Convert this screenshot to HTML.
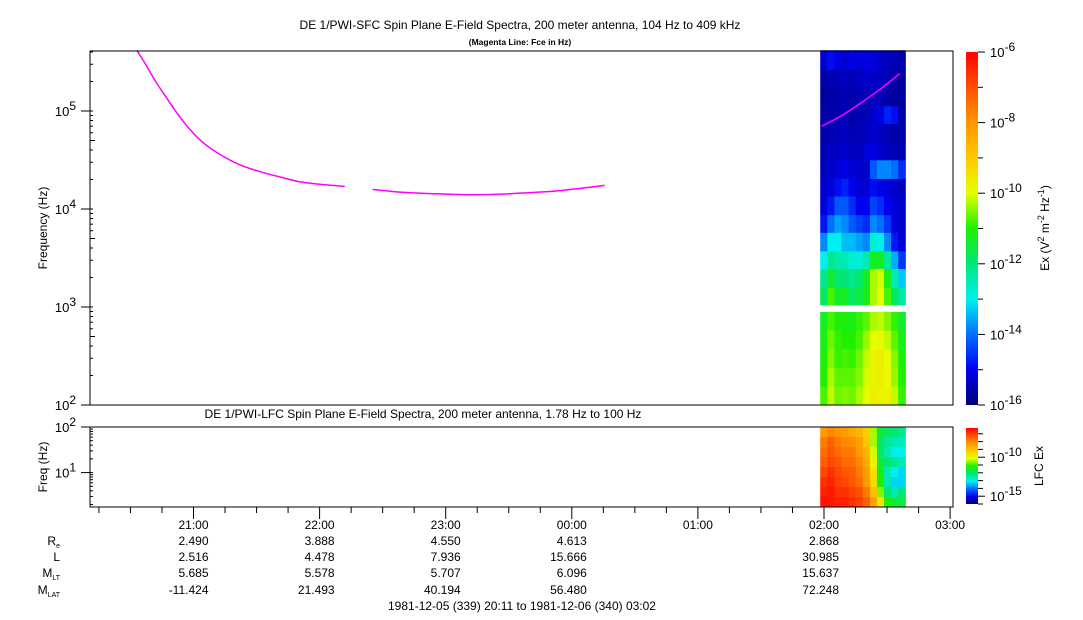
<!DOCTYPE html>
<html><head><meta charset="utf-8">
<style>
html,body{margin:0;padding:0;background:#fff;}
svg{display:block;font-family:"Liberation Sans",sans-serif;}
</style></head>
<body>
<svg id="chart" width="1083" height="620" viewBox="0 0 1083 620" xmlns="http://www.w3.org/2000/svg">
<text x="520" y="29" font-size="12" text-anchor="middle">DE 1/PWI-SFC  Spin Plane E-Field Spectra, 200 meter antenna, 104 Hz to 409 kHz</text>
<text x="520" y="45" font-size="8.5" font-weight="bold" text-anchor="middle">(Magenta Line: Fce in Hz)</text>
<text x="423" y="418" font-size="12" text-anchor="middle">DE 1/PWI-LFC  Spin Plane E-Field Spectra, 200 meter antenna, 1.78 Hz to 100 Hz</text>
<g id="spec"></g>
<g id="lfc"></g>
<g id="fce"></g>
<rect x="90" y="51" width="863" height="354" fill="none" stroke="#000" stroke-width="1"/>
<rect x="90" y="427" width="863" height="80" fill="none" stroke="#000" stroke-width="1"/>
<g id="axes"></g>
<text transform="translate(47,228) rotate(-90)" font-size="12" text-anchor="middle">Frequency (Hz)</text>
<text transform="translate(47,467) rotate(-90)" font-size="12" text-anchor="middle">Freq (Hz)</text>
<defs>
<linearGradient id="cmap" x1="0" y1="1" x2="0" y2="0"></linearGradient>
</defs>
<rect x="966" y="52" width="12" height="353" fill="url(#cmap)"/>
<rect x="966" y="428" width="12" height="76" fill="url(#cmap)"/>
<text transform="translate(1049,228) rotate(-90)" font-size="12" text-anchor="middle">Ex (V<tspan dy="-5" font-size="9">2</tspan><tspan dy="5"> m</tspan><tspan dy="-5" font-size="9">-2</tspan><tspan dy="5"> Hz</tspan><tspan dy="-5" font-size="9">-1</tspan><tspan dy="5">)</tspan></text>
<text transform="translate(1043,466) rotate(-90)" font-size="12" text-anchor="middle">LFC Ex</text>
<g id="ephem"></g>
<text x="522" y="610" font-size="12" text-anchor="middle">1981-12-05 (339) 20:11 to 1981-12-06 (340) 03:02</text>
</svg>
<script>
// ---- data ----
const sfcColStart = 25.97, sfcColEnd = 26.645; // hours
const sfcLowEdges = [2.0, 2.19, 2.38, 2.57, 2.76, 2.95];
const sfcLowValues = [
 [-10.8,-10.2,-10.6,-10.5,-10.6,-10.3,-10,-9.7,-9.8,-9.8,-10.2,-10.9],
 [-11,-10.3,-10.7,-10.7,-10.7,-10.5,-10.1,-9.8,-9.7,-9.9,-10.4,-11],
 [-11.1,-10.5,-10.9,-10.8,-10.9,-10.6,-10.2,-9.8,-9.7,-10,-10.5,-11.1],
 [-11.2,-10.6,-10.9,-11,-11,-10.8,-10.4,-10,-9.9,-10.2,-10.7,-11.2],
 [-11.3,-10.8,-11.1,-11.1,-11.2,-10.9,-10.7,-10.3,-10.2,-10.5,-10.9,-11.4]
];
const sfcHighEdges = [3.02,3.2,3.39,3.57,3.76,3.94,4.13,4.31,4.5,4.68,4.87,5.05,5.24,5.42,5.62];
const sfcHighValues = [
 [-11.8,-10.8,-11.3,-11.3,-11.8,-11.6,-11.2,-10.3,-10,-10.8,-11.8,-12.4],
 [-12.2,-11.4,-11.9,-12,-12.2,-11.9,-11.3,-10.3,-10.1,-11.2,-12.5,-13.3],
 [-13,-12.2,-12.4,-12.5,-12.8,-12.8,-12.5,-11.3,-11.3,-12.3,-13.5,-14.5],
 [-13.8,-13,-13,-13.4,-13.4,-13.6,-13.8,-12.8,-13,-13.8,-14.8,-15.2],
 [-14.8,-14,-13.6,-13.8,-14.2,-14.4,-14.6,-13.8,-14,-14.5,-15.2,-15.3],
 [-15.2,-14.8,-14.2,-14.2,-14.6,-15,-15,-14.4,-14.6,-15,-15.2,-15.3],
 [-15.3,-15.2,-14.9,-14.7,-15,-15.2,-15.2,-14.9,-15.1,-15.2,-15.3,-15.4],
 [-15.4,-15.3,-15.2,-15.1,-15.2,-15.3,-15.3,-14.2,-13.8,-13.8,-14,-14.6],
 [-15.5,-15.4,-15.3,-15.3,-15.4,-15.4,-15.2,-15.1,-15.3,-15.4,-15.5,-15.5],
 [-15.6,-15.5,-15.5,-15.4,-15.5,-15.5,-15.4,-15.3,-15.4,-15.5,-15.6,-15.6],
 [-15.6,-15.6,-15.5,-15.5,-15.6,-15.5,-15.5,-15.3,-15.1,-14.7,-14.9,-15.6],
 [-15.7,-15.6,-15.6,-15.5,-15.6,-15.5,-15.5,-15.4,-15.5,-15.6,-15.7,-15.7],
 [-15.6,-15.5,-15.5,-15.4,-15.5,-15.4,-15.3,-15.3,-15.4,-15.5,-15.6,-15.7],
 [-15.3,-14.9,-15.1,-15.3,-15.1,-15.2,-15.1,-15.2,-15.3,-15.4,-15.5,-15.6]
];
const lfcEdges = [0.25,0.47,0.69,0.91,1.13,1.35,1.57,1.79,2.0];
const lfcValues = [
 [-6.2,-6.3,-6.4,-6.4,-6.6,-6.8,-7.2,-8.2,-9.5,-11,-11.5,-11.5],
 [-6.4,-6.3,-6.6,-6.6,-6.8,-7,-7.6,-8.8,-10.5,-12,-12.5,-12],
 [-6.6,-6.4,-6.8,-6.9,-7.1,-7.4,-8.1,-9.3,-11,-12.5,-13.2,-13.2],
 [-6.9,-6.6,-6.9,-7.1,-7.2,-7.6,-8.2,-9.4,-11.2,-12.5,-13,-13.2],
 [-7.2,-6.9,-7.1,-7.4,-7.4,-7.8,-8.4,-9.8,-11.5,-12,-12.2,-12.5],
 [-7.4,-7.1,-7.4,-7.6,-7.6,-8.1,-8.6,-10.1,-11.8,-12.5,-13,-13],
 [-7.6,-7.2,-7.6,-7.8,-7.9,-8.2,-8.9,-10.3,-11.8,-12.3,-12.5,-12.6],
 [-8.1,-7.8,-8,-8.1,-8.4,-8.6,-9.1,-10.3,-11.5,-11.8,-12,-12.2]
];
const fceSeg1T = [20.55,20.62,20.70,20.78,20.87,20.97,21.08,21.21,21.36,21.53,21.70,21.84,22.02,22.20];
const fceSeg1F = [417000,300000,200000,140000,95000,65000,47000,36000,28500,24000,21000,19000,17800,17000];
const fceSeg2T = [22.42,22.60,22.80,23.00,23.19,23.40,23.67,23.85,23.99,24.26];
const fceSeg2F = [15800,15000,14500,14200,14000,14100,14700,15200,15800,17400];
const fceSeg3T = [25.98,26.13,26.28,26.44,26.60];
const fceSeg3F = [70000,88000,118000,165000,240000];
const hourTicks = [21,22,23,24,25,26,27];
const hourLabels = ["21:00","22:00","23:00","00:00","01:00","02:00","03:00"];
const ephemHours = [21,22,23,24,26];
const ephemRe = ["2.490","3.888","4.550","4.613","2.868"];
const ephemL = ["2.516","4.478","7.936","15.666","30.985"];
const ephemMLT = ["5.685","5.578","5.707","6.096","15.637"];
const ephemMLAT = ["-11.424","21.493","40.194","56.480","72.248"];

// ---- scales ----
const NS='http://www.w3.org/2000/svg';
const xT = h => 193.5 + (h-21)*126.1;
const yS = lf => 405 - (lf-2)*98;
const yL = lf => 427 + (2-lf)*45.6;
const cbS = lp => 405 - (lp+16)*35.3;
const cbL = lp => 504 - (lp+16)*7.8;
const stops=[[-16,[0,0,120]],[-15,[0,0,240]],[-14,[0,110,255]],[-13,[0,240,240]],[-12,[0,230,120]],[-11,[30,240,0]],[-10,[230,255,0]],[-9,[255,200,0]],[-8,[255,150,0]],[-7,[255,80,0]],[-6,[255,0,0]]];
function color(v){
  if(v<=stops[0][0]) return 'rgb('+stops[0][1]+')';
  for(let i=1;i<stops.length;i++){ if(v<=stops[i][0]){const a=stops[i-1],b=stops[i],t=(v-a[0])/(b[0]-a[0]);
    return 'rgb('+a[1].map((c,k)=>Math.round(c+(b[1][k]-c)*t)).join(',')+')';}}
  return 'rgb(255,0,0)';
}
function el(tag,attrs,parent){const e=document.createElementNS(NS,tag);for(const k in attrs)e.setAttribute(k,attrs[k]);parent.appendChild(e);return e;}
const grad=document.getElementById('cmap');
for(let v=-16;v<=-6;v+=0.25){el('stop',{offset:((v+16)/10),'stop-color':color(v)},grad);}

function heat(g,edges,vals,ys,name){
  const nc=vals[0].length, w=(xT(sfcColEnd)-xT(sfcColStart))/nc;
  vals.forEach((row,r)=>row.forEach((v,c)=>{
    const y0=ys(edges[r+1]), y1=ys(edges[r]);
    const rc=el('rect',{x:xT(sfcColStart)+c*w,y:y0,width:w+0.5,height:y1-y0+0.3,fill:color(v)},g);
    
    
  }));
}
const spec=document.getElementById('spec');
heat(spec,sfcLowEdges,sfcLowValues,yS,'sfc-cell');
heat(spec,sfcHighEdges,sfcHighValues,yS,'sfc-cell');
heat(document.getElementById('lfc'),lfcEdges,lfcValues,yL,'lfc-cell');

const fce=document.getElementById('fce');
[[fceSeg1T,fceSeg1F],[fceSeg2T,fceSeg2F],[fceSeg3T,fceSeg3F]].forEach(([t,f])=>{
  const pts=t.map((h,i)=>[xT(h),yS(Math.log10(f[i]))]);
  let d='M'+pts[0][0].toFixed(1)+','+pts[0][1].toFixed(1);
  for(let i=0;i<pts.length-1;i++){
    const p0=pts[Math.max(0,i-1)],p1=pts[i],p2=pts[i+1],p3=pts[Math.min(pts.length-1,i+2)];
    const c1=[p1[0]+(p2[0]-p0[0])/6,p1[1]+(p2[1]-p0[1])/6],c2=[p2[0]-(p3[0]-p1[0])/6,p2[1]-(p3[1]-p1[1])/6];
    d+=' C'+c1.map(v=>v.toFixed(1)).join(',')+' '+c2.map(v=>v.toFixed(1)).join(',')+' '+p2.map(v=>v.toFixed(1)).join(',');
  }
  const p=el('path',{d:d,fill:'none',stroke:'#ff00ff','stroke-width':1.5},fce);
  
  
});

const ax=document.getElementById('axes');
function sup(x,y,base,exp,size,anchor){
  const t=el('text',{x:x,y:y,'font-size':size,'text-anchor':anchor||'end'},ax);
  
  
  t.innerHTML=base+'<tspan dy="-6" font-size="'+(size-1)+'">'+exp+'</tspan>';
}
function line(x1,y1,x2,y2,g){el('line',{x1:x1,y1:y1,x2:x2,y2:y2,stroke:'#000','stroke-width':1},g||ax);}
for(let d=2;d<=5;d++){const y=yS(d);line(81,y,93,y);sup(76,y+5,'10',d,13);
  for(let m=2;m<10;m++){const lf=d+Math.log10(m);if(lf>5.62)break;const yy=yS(lf);line(90,yy,m==5?95:93,yy);}}
[1,2].forEach(d=>{const y=yL(d);line(81,y,93,y);sup(76,y+5,'10',d,13);});
for(let d=0;d<2;d++)for(let m=2;m<10;m++){const lf=d+Math.log10(m);if(lf<0.25)continue;line(90,yL(lf),93,yL(lf));}
for(let p=-16;p<=-6;p++){const y=cbS(p);line(978,y,p%2==0?985:983,y);if(p%2==0)sup(990,y+5,'10',p,13,'start');}
for(let p=-16;p<=-7;p++){const y=cbL(p);line(978,y,p%5==0?985:983,y);}
sup(990,cbL(-10)+5,'10','-10',13,'start');sup(990,cbL(-15)+5,'10','-15',13,'start');
for(let h=20.25;h<=27.01;h+=0.25){const x=xT(h);const major=Math.abs(h-Math.round(h))<0.01;line(x,507,x,major?519:513);}
hourTicks.forEach((h,i)=>{const t=el('text',{x:xT(h),y:529,'font-size':12,'text-anchor':'middle'},ax);
  
  
  t.textContent=hourLabels[i];});
const eg=document.getElementById('ephem');
const rowsY=[545,561,577,594];
const rowLab=['R<tspan dy="3" font-size="7">e</tspan>','L','M<tspan dy="3" font-size="7">LT</tspan>','M<tspan dy="3" font-size="7">LAT</tspan>'];
rowLab.forEach((lab,i)=>{const t=el('text',{x:60,y:rowsY[i],'font-size':12,'text-anchor':'end'},eg);
  
  
  t.innerHTML=lab;});
[ephemRe,ephemL,ephemMLT,ephemMLAT].forEach((arr,r)=>arr.forEach((v,i)=>{
  const t=el('text',{x:xT(ephemHours[i])+15,y:rowsY[r],'font-size':12,'text-anchor':'end'},eg);
  
  
  t.textContent=v;}));
</script>
</body></html>
